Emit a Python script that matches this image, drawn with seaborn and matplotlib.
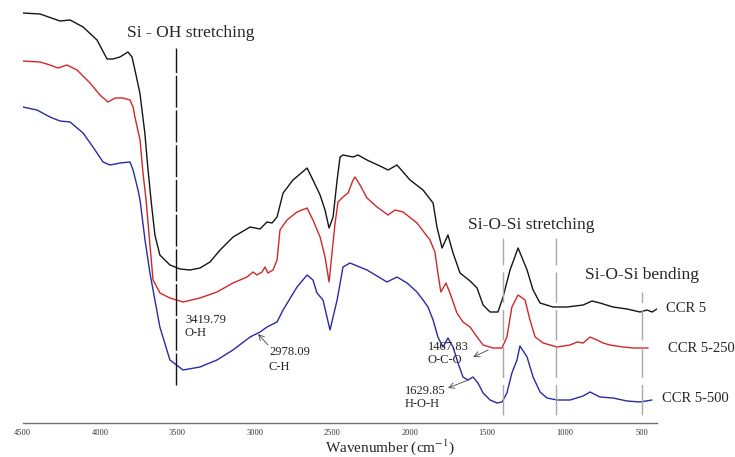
import numpy as np
import pandas as pd
import matplotlib
matplotlib.use("Agg")
import matplotlib.pyplot as plt
import seaborn as sns

# ---------------- data ----------------
wn_ccr5 = [4500, 4388, 4259, 4194, 4110, 4020, 3955, 3917, 3872, 3820, 3794, 3775, 3743, 3711,
           3692, 3671, 3646, 3614, 3549, 3484, 3419, 3355, 3290, 3225, 3141, 3031, 2967, 2922,
           2889, 2857, 2818, 2754, 2663, 2625, 2579, 2547, 2521, 2495, 2469, 2450, 2431, 2366,
           2334, 2276, 2192, 2140, 2082, 1998, 1914, 1849, 1824, 1791, 1753, 1720, 1675, 1610,
           1565, 1526, 1481, 1430, 1397, 1352, 1300, 1242, 1203, 1158, 1074, 984, 880, 822,
           771, 687, 596, 512, 467, 435, 402]
t_ccr5 = [414, 413, 406, 407, 400, 387, 368, 368, 370, 375, 370, 357, 334, 294,
          260, 227, 192, 172, 162, 158, 157, 159, 165, 177, 190, 200, 198, 205,
          204, 210, 234, 247, 259, 247, 232, 217, 199, 210, 247, 270, 272, 270,
          272, 267, 261, 257, 262, 247, 237, 224, 200, 179, 192, 174, 154, 146,
          139, 122, 115, 115, 130, 157, 179, 157, 137, 124, 120, 120, 122, 126,
          124, 120, 118, 115, 117, 115, 118]

wn_ccr5_250 = [4500, 4388, 4324, 4272, 4214, 4149, 4065, 4001, 3949, 3903, 3852, 3807, 3787, 3775,
               3742, 3723, 3703, 3678, 3658, 3613, 3549, 3464, 3355, 3245, 3142, 3051, 3012, 2987,
               2954, 2935, 2916, 2883, 2857, 2838, 2793, 2728, 2663, 2625, 2579, 2547, 2521, 2482,
               2463, 2431, 2398, 2366, 2353, 2321, 2276, 2211, 2140, 2095, 2043, 1953, 1869, 1837,
               1818, 1799, 1766, 1740, 1695, 1656, 1610, 1565, 1526, 1462, 1404, 1372, 1340, 1300,
               1255, 1223, 1190, 1138, 1048, 964, 919, 880, 835, 790, 751, 706, 622, 557, 460]
t_ccr5_250 = [366, 365, 362, 359, 362, 357, 344, 332, 325, 329, 329, 327, 320, 310,
              287, 254, 227, 182, 147, 134, 129, 125, 129, 135, 144, 150, 155, 152,
              155, 160, 154, 157, 167, 197, 207, 215, 219, 207, 190, 170, 145, 204,
              225, 230, 234, 247, 250, 242, 229, 220, 212, 217, 215, 204, 187, 175,
              154, 135, 144, 134, 114, 105, 100, 90, 82, 79, 79, 90, 120, 132,
              127, 107, 90, 84, 80, 82, 85, 84, 90, 87, 84, 82, 80, 79, 79]

wn_ccr5_500 = [4500, 4408, 4324, 4259, 4194, 4110, 4046, 3981, 3936, 3871, 3807, 3787, 3755, 3742,
               3710, 3678, 3614, 3549, 3464, 3355, 3245, 3142, 3031, 2967, 2922, 2857, 2818, 2728,
               2663, 2625, 2599, 2560, 2515, 2469, 2431, 2386, 2276, 2147, 2082, 2017, 1953, 1914,
               1882, 1849, 1818, 1785, 1753, 1720, 1688, 1656, 1624, 1591, 1559, 1526, 1481, 1436,
               1404, 1372, 1340, 1307, 1288, 1242, 1203, 1158, 1113, 1048, 964, 880, 835, 771,
               687, 596, 512, 435]
t_ccr5_500 = [320, 317, 310, 306, 305, 294, 280, 265, 262, 264, 265, 257, 237, 227,
              187, 154, 100, 67, 57, 60, 67, 77, 90, 95, 100, 105, 117, 140,
              152, 147, 134, 127, 97, 127, 160, 164, 157, 145, 150, 144, 135, 127,
              120, 107, 90, 80, 89, 80, 64, 50, 47, 50, 44, 34, 27, 24,
              25, 34, 54, 67, 81, 70, 50, 35, 29, 27, 27, 31, 35, 30,
              29, 26, 25, 27]

series_names = ["CCR 5", "CCR 5-250", "CCR 5-500"]
series_colors = ["#151515", "#d02828", "#2a2aa6"]
x_ticks = [4500, 4000, 3500, 3000, 2500, 2000, 1500, 1000, 500]

df = pd.concat([
    pd.DataFrame({"wn": wn_ccr5, "T": t_ccr5, "sample": series_names[0]}),
    pd.DataFrame({"wn": wn_ccr5_250, "T": t_ccr5_250, "sample": series_names[1]}),
    pd.DataFrame({"wn": wn_ccr5_500, "T": t_ccr5_500, "sample": series_names[2]}),
], ignore_index=True)

# ---------------- style ----------------
sns.set_style("white")
plt.rcParams["font.family"] = ["Liberation Serif", "DejaVu Serif"]
plt.rcParams["mathtext.fontset"] = "stix"

W, H = 735, 457
fig = plt.figure(figsize=(W / 100, H / 100), dpi=100)
x0, x1, yb = 22.7, 657.4, 423
ax = fig.add_axes([x0 / W, (H - yb) / H, (x1 - x0) / W, yb / H])

sns.lineplot(data=df, x="wn", y="T", hue="sample", palette=series_colors,
             hue_order=series_names, sort=False, estimator=None, lw=1.0,
             legend=False, ax=ax)

ax.set_xlim(4500, 400)
ax.set_ylim(4, 427)
ax.set_xticks(x_ticks)
ax.set_xticklabels([str(t) for t in x_ticks], fontsize=6)
ax.set_yticks([])
ax.set_ylabel("")
for s in ["left", "right", "top"]:
    ax.spines[s].set_visible(False)
ax.spines["bottom"].set_color("#707070")
ax.spines["bottom"].set_linewidth(1.0)
ax.tick_params(axis="x", direction="inout", length=6, width=0.8, color="#707070",
               pad=1, labelcolor="#333333")
ax.set_xlabel("Wavenumber (cm$^{-1}$)", fontsize=11)
ax.xaxis.set_label_coords((390 - x0) / (x1 - x0), -14 / yb)

# ---------------- reference lines ----------------
ax.plot([3510, 3510], [42, 379], color="#111111", lw=1.0, ls=(0, (23, 2)))
for xv in [1400, 1055]:
    ax.plot([xv, xv], [12, 189], color="#a8a8a8", lw=1.0, ls=(0, (22, 5)))
ax.plot([500, 500], [12, 135], color="#a8a8a8", lw=1.0, ls=(0, (22, 5)))

# ---------------- annotations ----------------
ax.text(3413, 394, "Si - OH stretching", fontsize=12.5, ha="center", va="center")
ax.text(1216, 202, "Si-O-Si stretching", fontsize=12.5, ha="center", va="center")
ax.text(500, 152, "Si-O-Si bending", fontsize=12.5, ha="center", va="center", clip_on=False)

small = dict(fontsize=9, ha="left", va="center", color="#222222")
ax.text(3452, 107, "3419.79", **small)
ax.text(3452, 94, "O-H", **small)
ax.text(2909, 75, "2978.09", **small)
ax.text(2909, 60, "C-H", **small)
ax.text(1882, 80, "1467.83", **small)
ax.text(1882, 67, "O-C-O", **small)
ax.text(2030, 36, "1629.85", **small)
ax.text(2030, 23, "H-O-H", **small)

arr = dict(arrowstyle="->", color="#444444", lw=0.6, shrinkA=0, shrinkB=0)
ax.annotate("", xy=(2980, 93), xytext=(2915, 82), arrowprops=arr)
ax.annotate("", xy=(1590, 70), xytext=(1493, 77), arrowprops=arr)
ax.annotate("", xy=(1752, 39), xytext=(1623, 47), arrowprops=arr)

lab = dict(fontsize=10.5, ha="left", va="center", clip_on=False)
ax.text(344, 119, "CCR 5", **lab)
ax.text(331, 79, "CCR 5-250", **lab)
ax.text(370, 28, "CCR 5-500", **lab)

fig.savefig("out.png", dpi=100)
